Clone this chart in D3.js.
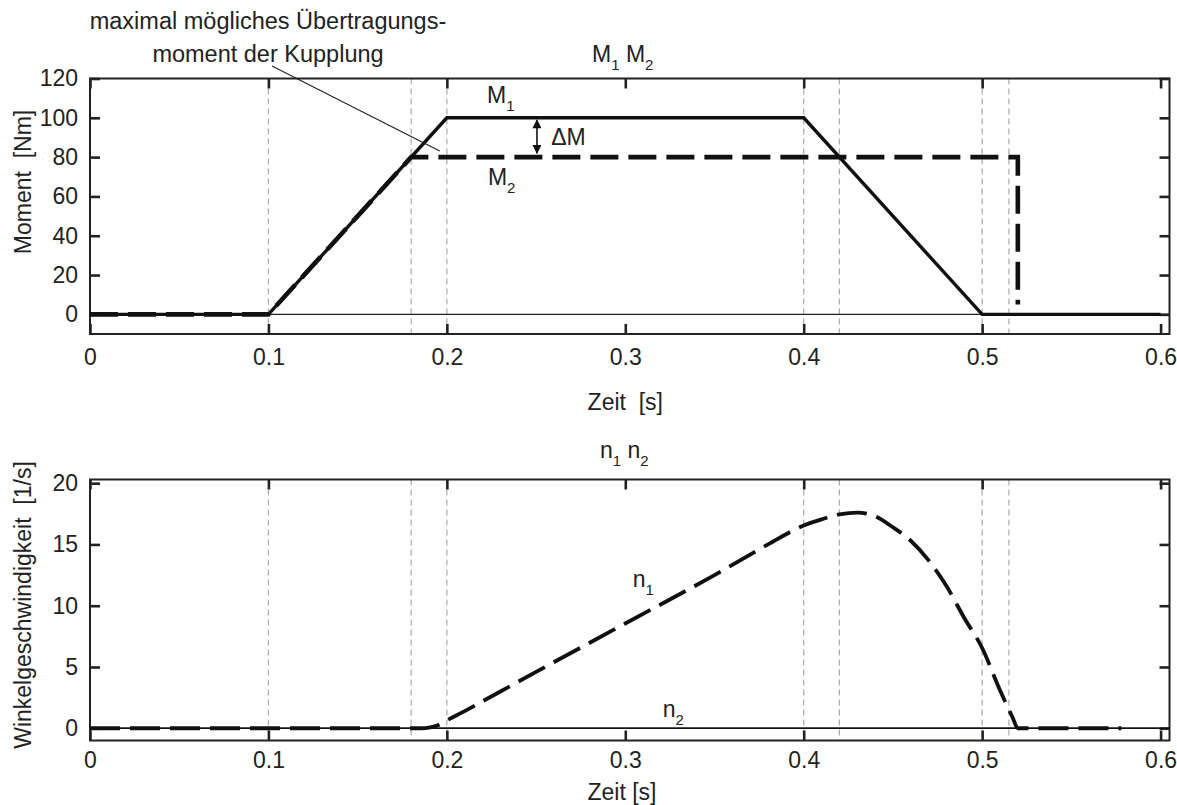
<!DOCTYPE html>
<html>
<head>
<meta charset="utf-8">
<script src="https://cdn.jsdelivr.net/npm/d3@7"></script>
<style>
  body { margin: 0; background: #fff; }
  text { font-family: "Liberation Sans", Arial, sans-serif; fill: #222; white-space: pre; }
</style>
</head>
<body>
<div id="chart"></div>
<script>
// tick values
const timeTicks = [0, 0.1, 0.2, 0.3, 0.4, 0.5, 0.6];
const markerTimes = [0.1, 0.18, 0.2, 0.4, 0.42, 0.5, 0.515];
const momentTicks = [0, 20, 40, 60, 80, 100, 120];
const speedTicks = [0, 5, 10, 15, 20];

// M1, M2 (Nm)
const m1Time = [0, 0.1, 0.2, 0.4, 0.5, 0.6];
const m1Value = [0, 0, 100, 100, 0, 0];
const m2Time = [0, 0.1, 0.18, 0.52, 0.52];
const m2Value = [0, 0, 80, 80, 5];

// n1, n2 (1/s)
const n1Time = [0, 0.186, 0.19, 0.195, 0.2, 0.21, 0.22, 0.25, 0.3, 0.35, 0.38, 0.4, 0.41, 0.42, 0.43,
  0.44, 0.45, 0.46, 0.47, 0.48, 0.49, 0.5, 0.51, 0.517, 0.52, 0.578];
const n1Value = [0, 0, 0.05, 0.25, 0.65, 1.4, 2.2, 4.6, 8.55, 12.5, 15.0, 16.55, 17.05, 17.45, 17.6,
  17.3, 16.4, 15.3, 13.7, 11.6, 9.0, 6.55, 3.1, 0.9, 0, 0];
const n2Time = [0, 0.605];
const n2Value = [0, 0];

const W = 1177, H = 805;
const ink = "#222";

const svg = d3.select("#chart").append("svg")
    .attr("width", W)
    .attr("height", H);

svg.append("rect").attr("width", W).attr("height", H).attr("fill", "#fff");

const x = d3.scaleLinear().domain([0, 0.605]).range([90, 1169.5]);
const yM = d3.scaleLinear().domain([-10, 120]).range([334, 78.5]);
const yN = d3.scaleLinear().domain([-1, 20.3]).range([740.5, 479.5]);

function styleAxis(g) {
    g.attr("font-size", 23).attr("font-family", null);
    g.select(".domain").remove();
    g.selectAll(".tick line").attr("stroke", ink).attr("stroke-width", 2.6);
    g.selectAll(".tick text").attr("fill", ink);
}

function frame(y, yTicks, xPad) {
    const [y0, y1] = y.range();
    const g = svg.append("g");

    // grey dashed marker lines
    g.selectAll(".marker").data(markerTimes).enter().append("line")
        .attr("x1", d => x(d)).attr("x2", d => x(d))
        .attr("y1", y1).attr("y2", y0)
        .attr("stroke", "#aaa")
        .attr("stroke-width", 1.2)
        .attr("stroke-dasharray", "6,4");

    // zero line
    g.append("line")
        .attr("x1", x.range()[0]).attr("x2", x.range()[1])
        .attr("y1", y(0)).attr("y2", y(0))
        .attr("stroke", ink).attr("stroke-width", 1.3);

    g.append("g").attr("transform", `translate(${x.range()[0]},0)`)
        .call(d3.axisLeft(y).tickValues(yTicks).tickSize(-10).tickPadding(12))
        .call(styleAxis);
    g.append("g").attr("transform", `translate(${x.range()[1]},0)`)
        .call(d3.axisRight(y).tickValues(yTicks).tickSize(-10).tickFormat(""))
        .call(styleAxis);
    g.append("g").attr("transform", `translate(0,${y1})`)
        .call(d3.axisTop(x).tickValues(timeTicks).tickSize(-10).tickFormat(""))
        .call(styleAxis);
    g.append("g").attr("transform", `translate(0,${y0})`)
        .call(d3.axisBottom(x).tickValues(timeTicks).tickSize(-10).tickPadding(xPad).tickFormat(d => d))
        .call(styleAxis);

    g.append("rect")
        .attr("x", x.range()[0]).attr("y", y1)
        .attr("width", x.range()[1] - x.range()[0])
        .attr("height", y0 - y1)
        .attr("fill", "none")
        .attr("stroke", ink)
        .attr("stroke-width", 2);
    return g;
}

function series(y, t, v, width, dash, curve) {
    const line = d3.line()
        .x(i => x(t[i]))
        .y(i => y(v[i]))
        .curve(curve || d3.curveLinear);
    svg.append("path")
        .attr("d", line(d3.range(t.length)))
        .attr("fill", "none")
        .attr("stroke", "#111")
        .attr("stroke-width", width)
        .attr("stroke-dasharray", dash)
        .attr("stroke-linejoin", "miter");
}

// label with subscripts, parts = [[main, sub], ...]
function subLabel(px, py, parts) {
    const t = svg.append("text").attr("x", px).attr("y", py).attr("font-size", 23);
    parts.forEach((p, i) => {
        t.append("tspan").attr("dy", i === 0 ? 0 : -8).text((i === 0 ? "" : " ") + p[0]);
        t.append("tspan").attr("dy", 8).attr("font-size", 15).text(p[1]);
    });
    return t;
}

// ---------- top panel ----------
frame(yM, momentTicks, 14.5);
series(yM, m1Time, m1Value, 3.4, null);
series(yM, m2Time, m2Value, 4.6, "28,10");

svg.append("text").attr("x", 31).attr("y", 182)
    .attr("transform", "rotate(-90,31,182)")
    .attr("text-anchor", "middle").attr("font-size", 23)
    .text("Moment  [Nm]");
svg.append("text").attr("x", x(0.3)).attr("y", 410)
    .attr("text-anchor", "middle").attr("font-size", 23)
    .text("Zeit  [s]");
subLabel(592, 62, [["M", "1"], ["M", "2"]]);
subLabel(x(0.2225), yM(107.5), [["M", "1"]]);
subLabel(x(0.223), yM(65.8), [["M", "2"]]);
svg.append("text").attr("x", x(0.2585)).attr("y", yM(86.2))
    .attr("font-size", 23).text("\u0394M");

// double arrow for delta M
const defs = svg.append("defs");
defs.append("marker")
    .attr("id", "head")
    .attr("viewBox", "0 0 10 10")
    .attr("refX", 9).attr("refY", 5)
    .attr("markerWidth", 11).attr("markerHeight", 9)
    .attr("markerUnits", "userSpaceOnUse")
    .attr("orient", "auto-start-reverse")
    .append("path").attr("d", "M0,0L10,5L0,10Z").attr("fill", "#111");
svg.append("line")
    .attr("x1", x(0.2505)).attr("x2", x(0.2505))
    .attr("y1", yM(98.8)).attr("y2", yM(82))
    .attr("stroke", "#111").attr("stroke-width", 1.6)
    .attr("marker-start", "url(#head)")
    .attr("marker-end", "url(#head)");

// annotation
const note = svg.append("text").attr("text-anchor", "middle").attr("font-size", 23.5);
note.append("tspan").attr("x", 268).attr("y", 29).text("maximal mögliches Übertragungs-");
note.append("tspan").attr("x", 268).attr("y", 62).text("moment der Kupplung");
svg.append("line")
    .attr("x1", x(0.102)).attr("y1", yM(126.4))
    .attr("x2", x(0.196)).attr("y2", yM(83.1))
    .attr("stroke", ink).attr("stroke-width", 1.1);

// ---------- bottom panel ----------
frame(yN, speedTicks, 11);
series(yN, n2Time, n2Value, 1.3, null);
series(yN, n1Time, n1Value, 3.8, "30,10", d3.curveMonotoneX);

svg.append("text").attr("x", 31).attr("y", 605)
    .attr("transform", "rotate(-90,31,605)")
    .attr("text-anchor", "middle").attr("font-size", 23)
    .text("Winkelgeschwindigkeit  [1/s]");
svg.append("text").attr("x", 622).attr("y", 800)
    .attr("text-anchor", "middle").attr("font-size", 23)
    .text("Zeit [s]");
subLabel(600, 458, [["n", "1"], ["n", "2"]]);
subLabel(x(0.3042), yN(11.5), [["n", "1"]]);
subLabel(x(0.321), yN(0.92), [["n", "2"]]);
</script>
</body>
</html>
